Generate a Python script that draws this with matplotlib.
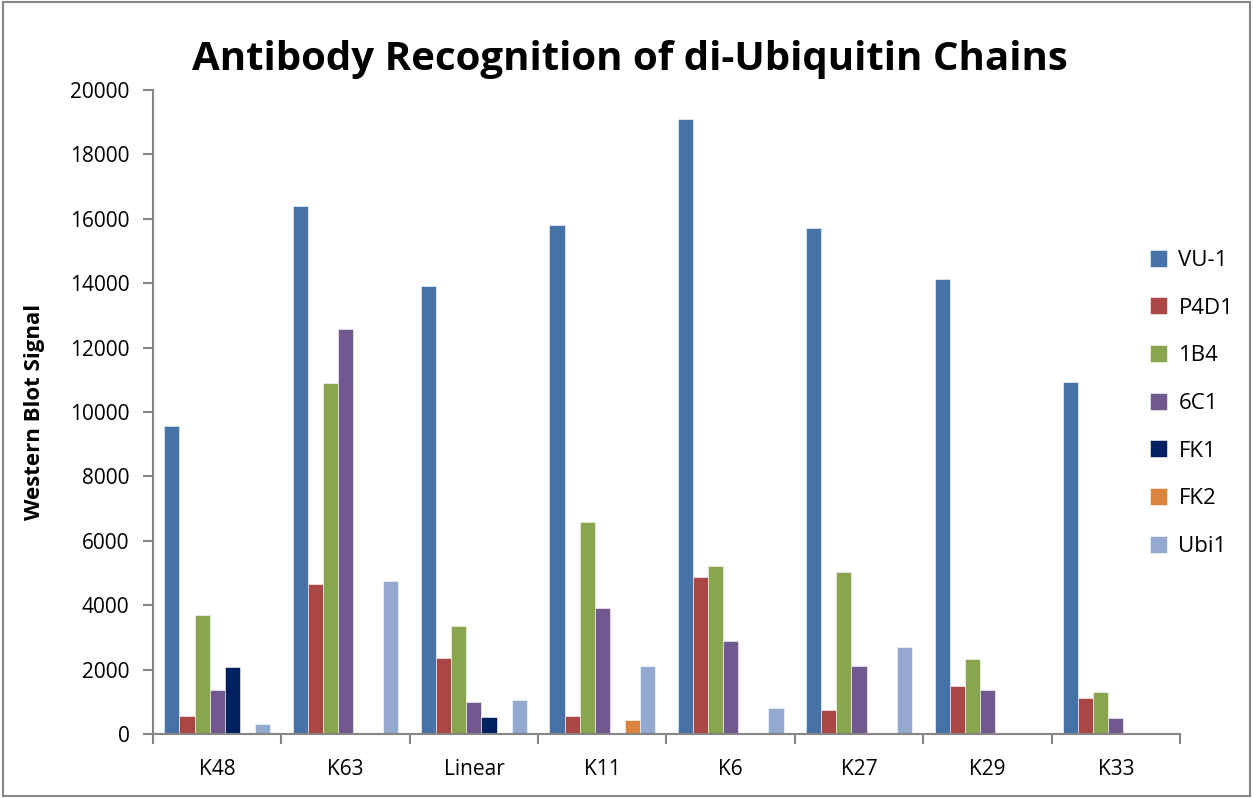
import matplotlib
matplotlib.use("Agg")
import matplotlib.pyplot as plt
import numpy as np
from matplotlib.patches import Rectangle

categories = ["K48", "K63", "Linear", "K11", "K6", "K27", "K29", "K33"]
series_names = ["VU-1", "P4D1", "1B4", "6C1", "FK1", "FK2", "Ubi1"]
vu1  = [9580, 16400, 13910, 15800, 19100, 15710, 14130, 10930]
p4d1 = [560, 4660, 2360, 560, 4875, 735, 1500, 1118]
b14  = [3700, 10900, 3345, 6575, 5227, 5030, 2320, 1304]
c61  = [1360, 12580, 1000, 3910, 2880, 2110, 1366, 488]
fk1  = [2080, 0, 530, 0, 0, 0, 0, 0]
fk2  = [0, 0, 0, 435, 0, 0, 0, 0]
ubi1 = [320, 4750, 1050, 2110, 800, 2690, 0, 0]
colors = ["#4572A7", "#AA4643", "#89A54E", "#71588F", "#002060", "#DB843D", "#93A9CF"]

all_series = [vu1, p4d1, b14, c61, fk1, fk2, ubi1]

fig = plt.figure(figsize=(12.53, 7.98), dpi=100)
ax = fig.add_axes([0.1221, 0.0802, 0.8196, 0.8070])

x = np.arange(len(categories))
w = 1 / 8.5
for i, (vals, name, c) in enumerate(zip(all_series, series_names, colors)):
    ax.bar(x + (i - 3) * w, vals, width=w, color=c, label=name,
           edgecolor="white", linewidth=0.4)

ax.set_xlim(-0.5, len(categories) - 0.5)
ax.set_ylim(0, 20000)
ax.set_yticks(np.arange(0, 20001, 2000))
ax.set_yticklabels([str(v) for v in range(0, 20001, 2000)], fontsize=15, family="Open Sans")
ax.set_xticks(np.arange(-0.5, len(categories), 1.0))
ax.set_xticklabels([])
ax.set_xticks(x, minor=True)
ax.set_xticklabels(categories, minor=True, fontsize=15, family="Open Sans")
ax.tick_params(axis="x", which="minor", length=0, pad=18)
ax.tick_params(axis="x", which="major", length=7, color="#868686", width=1.5)
ax.tick_params(axis="y", length=7, color="#868686", width=1.5, pad=10)
for s in ["top", "right"]:
    ax.spines[s].set_visible(False)
for s in ["left", "bottom"]:
    ax.spines[s].set_color("#868686")
    ax.spines[s].set_linewidth(1.5)

ax.set_ylabel("Western Blot Signal", fontsize=16, fontweight="bold", family="Open Sans", labelpad=18)

fig.text(0.503, 0.925, "Antibody Recognition of di-Ubiquitin Chains", ha="center", va="center",
         fontsize=29, fontweight="bold", family="Open Sans")

leg = fig.legend(loc="upper left", bbox_to_anchor=(0.9015, 0.712), frameon=False,
                 prop={"family": "Open Sans", "size": 16},
                 handlelength=0.8, handleheight=0.8, labelspacing=1.19, handletextpad=0.5)

fig.patches.append(Rectangle((0.002, 0.002), 0.996, 0.996, transform=fig.transFigure,
                             fill=False, edgecolor="#868686", linewidth=1.5))

fig.savefig("out.png", dpi=100)
